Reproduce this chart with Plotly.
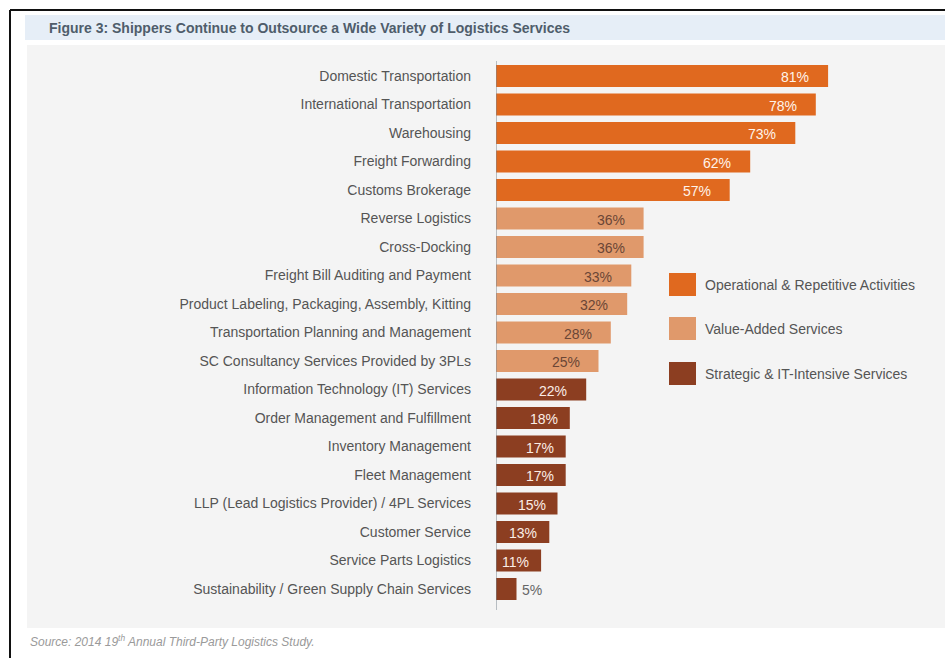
import plotly.graph_objects as go

# Survey results: share of shippers outsourcing each logistics service (%)
operational_cats = ["Domestic Transportation", "International Transportation", "Warehousing",
                    "Freight Forwarding", "Customs Brokerage"]
operational_vals = [81, 78, 73, 62, 57]

value_added_cats = ["Reverse Logistics", "Cross-Docking", "Freight Bill Auditing and Payment",
                    "Product Labeling, Packaging, Assembly, Kitting",
                    "Transportation Planning and Management",
                    "SC Consultancy Services Provided by 3PLs"]
value_added_vals = [36, 36, 33, 32, 28, 25]

strategic_cats = ["Information Technology (IT) Services", "Order Management and Fulfillment",
                  "Inventory Management", "Fleet Management",
                  "LLP (Lead Logistics Provider) / 4PL Services", "Customer Service",
                  "Service Parts Logistics", "Sustainability / Green Supply Chain Services"]
strategic_vals = [22, 18, 17, 17, 15, 13, 11, 5]

group_names = ["Operational & Repetitive Activities", "Value-Added Services",
               "Strategic & IT-Intensive Services"]

W, H = 945, 658
FONT = "Liberation Sans, Arial, sans-serif"

groups = [
    (operational_cats, operational_vals, "#E0691F", "#FFF3EA"),
    (value_added_cats, value_added_vals, "#E0996B", "#6B4636"),
    (strategic_cats, strategic_vals, "#8C3E21", "#FBEDE6"),
]

all_cats = operational_cats + value_added_cats + strategic_cats

fig = go.Figure()
annotations = []
for (cats, vals, color, lbl_color), name in zip(groups, group_names):
    fig.add_trace(go.Bar(
        x=vals, y=cats, orientation="h", name=name,
        marker=dict(color=color, line=dict(width=0)),
        showlegend=False, hoverinfo="x+y",
    ))
    for c, v in zip(cats, vals):
        if v >= 10:
            # value label sits inside the bar, near its end
            annotations.append(dict(
                x=v, y=c, xref="x", yref="y", text=f"{v}%", showarrow=False,
                xanchor="right", xshift=-17 if v >= 20 else -10, yshift=-1,
                font=dict(family=FONT, size=14, color=lbl_color),
            ))
        else:
            # bar too short: label goes just outside
            annotations.append(dict(
                x=v, y=c, xref="x", yref="y", text=f"{v}%", showarrow=False,
                xanchor="left", xshift=3, yshift=-1,
                font=dict(family=FONT, size=14, color="#666666"),
            ))

# Page decorations in paper coordinates (margins are zero so paper = whole page)
def px_x(x):
    return x / W

def px_y(y):
    return 1 - y / H

shapes = [
    # grey panel behind the chart
    dict(type="rect", xref="paper", yref="paper", layer="below",
         x0=px_x(27), x1=px_x(945), y0=px_y(628), y1=px_y(45),
         fillcolor="#F4F4F4", line=dict(width=0)),
    # title band
    dict(type="rect", xref="paper", yref="paper", layer="below",
         x0=px_x(25), x1=px_x(945), y0=px_y(40), y1=px_y(15),
         fillcolor="#E6EEF7", line=dict(width=0)),
    # frame lines
    dict(type="line", xref="paper", yref="paper",
         x0=px_x(10), x1=px_x(945), y0=px_y(10), y1=px_y(10),
         line=dict(color="#111111", width=2)),
    dict(type="line", xref="paper", yref="paper",
         x0=px_x(10), x1=px_x(10), y0=px_y(10), y1=px_y(658),
         line=dict(color="#111111", width=2)),
    # baseline of the bars
    dict(type="line", xref="x", yref="paper",
         x0=0, x1=0, y0=px_y(610), y1=px_y(61),
         line=dict(color="#7A8590", width=1)),
]

# Legend swatches and labels
legend_colors = [g[2] for g in groups]
legend_tops = [273, 317, 362]
for name, color, top in zip(group_names, legend_colors, legend_tops):
    shapes.append(dict(type="rect", xref="paper", yref="paper",
                       x0=px_x(669), x1=px_x(696), y0=px_y(top + 23), y1=px_y(top),
                       fillcolor=color, line=dict(width=0)))
    annotations.append(dict(x=px_x(703), y=px_y(top + 11.5), xref="paper", yref="paper",
                            text=name, showarrow=False, xanchor="left", yanchor="middle",
                            font=dict(family=FONT, size=14, color="#555555")))

annotations.append(dict(
    x=px_x(47), y=px_y(27.5), xref="paper", yref="paper", showarrow=False,
    xanchor="left", yanchor="middle",
    text="<b>Figure 3: Shippers Continue to Outsource a Wide Variety of Logistics Services</b>",
    font=dict(family=FONT, size=14, color="#4F5D6B"),
))
annotations.append(dict(
    x=px_x(28), y=px_y(641), xref="paper", yref="paper", showarrow=False,
    xanchor="left", yanchor="middle",
    text="<i>Source: 2014 19<sup>th</sup> Annual Third-Party Logistics Study.</i>",
    font=dict(family=FONT, size=12, color="#9A9A9A"),
))

n = len(all_cats)
row_top, row_bottom = 61.75, 603.25

fig.update_layout(
    width=W, height=H,
    margin=dict(l=0, r=0, t=0, b=0),
    paper_bgcolor="white", plot_bgcolor="rgba(0,0,0,0)",
    bargap=0.22, barmode="overlay",
    shapes=shapes, annotations=annotations,
    xaxis=dict(domain=[px_x(496), px_x(906)], range=[0, 100], visible=False, fixedrange=True),
    yaxis=dict(
        domain=[1 - row_bottom / H, 1 - row_top / H],
        categoryorder="array", categoryarray=all_cats[::-1],
        range=[-0.5, n - 0.5],
        showline=False, showgrid=False, zeroline=False, ticks="",
        ticklabelstandoff=24,
        tickfont=dict(family=FONT, size=14, color="#555555"),
    ),
)

fig.write_html("out.html")
